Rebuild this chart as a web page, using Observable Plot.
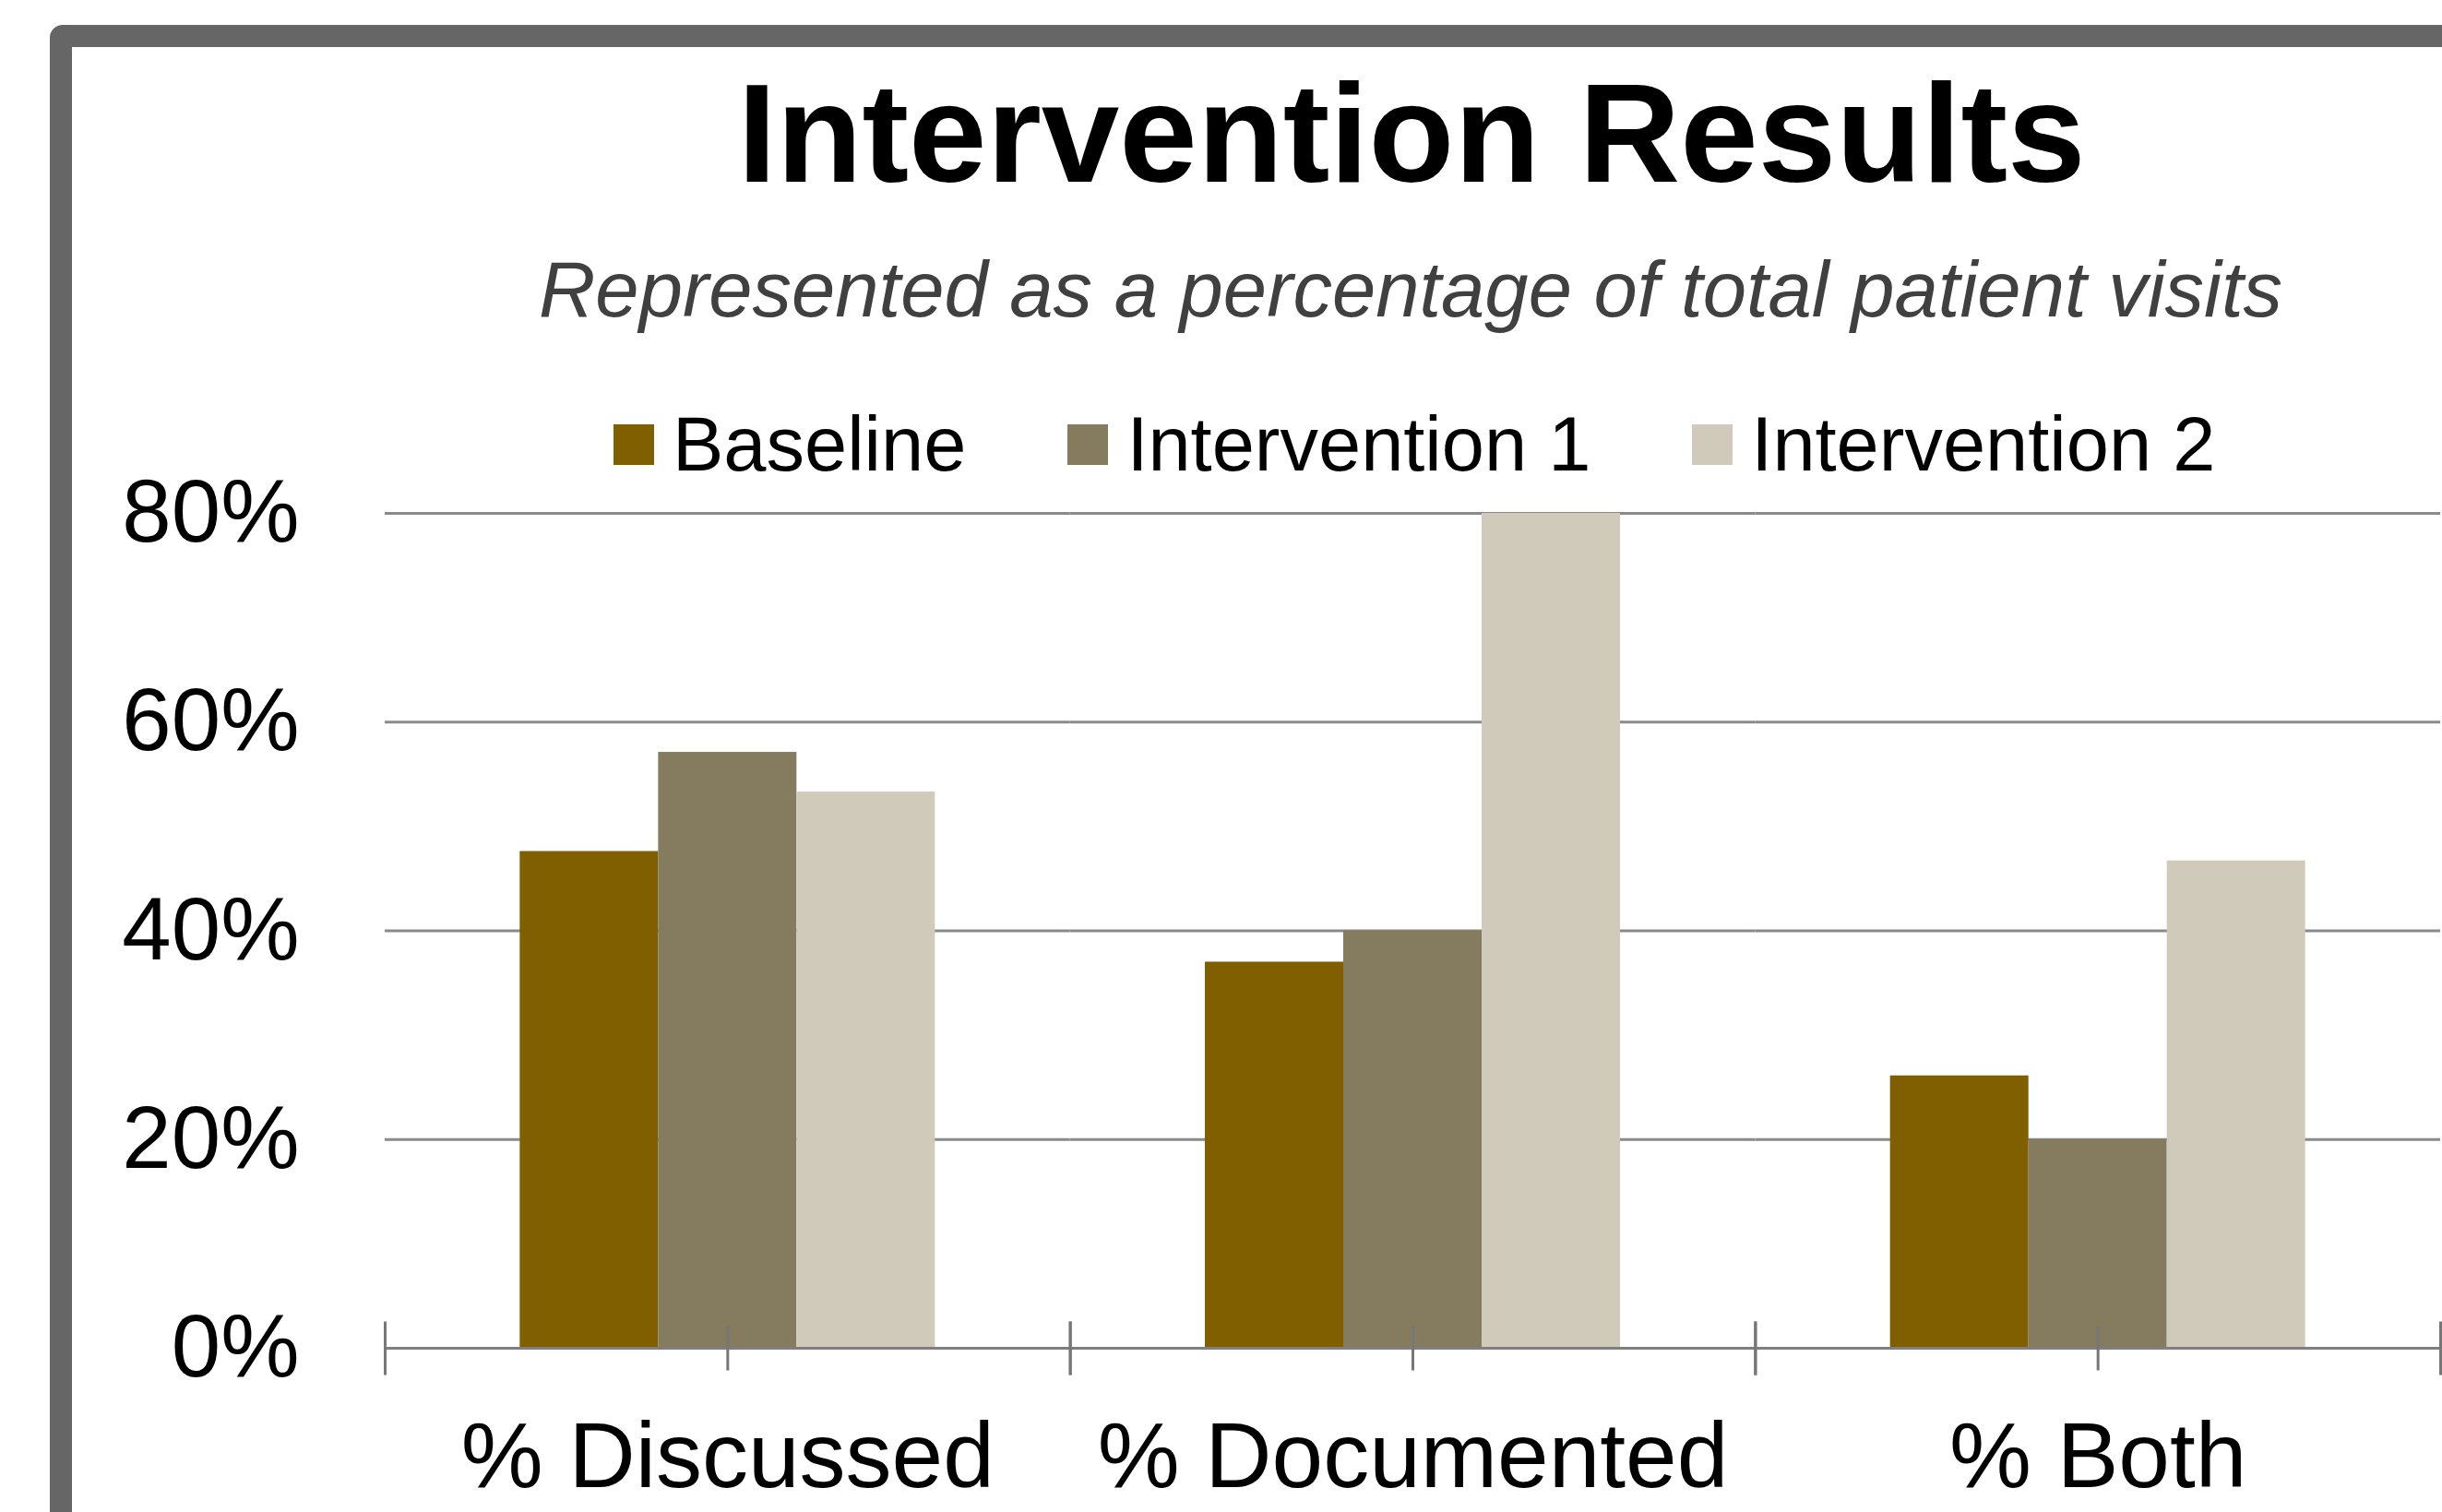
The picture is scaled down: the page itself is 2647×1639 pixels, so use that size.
<!DOCTYPE html>
<html>
<head>
<meta charset="utf-8">
<script src="https://cdn.jsdelivr.net/npm/d3@7"></script>
<script src="https://cdn.jsdelivr.net/npm/@observablehq/plot@0.6"></script>
<style>
  html, body { margin: 0; padding: 0; background: #fff; }
  body { width: 2647px; height: 1639px; position: relative; overflow: hidden; font-family: "Liberation Sans", Arial, sans-serif; }
  #frame { position: absolute; left: 54px; top: 27px; width: 3000px; height: 3000px; box-sizing: border-box;
           border: 24px solid #666666; border-radius: 14px; z-index: 5; pointer-events: none; }
  #title { position: absolute; left: 1530px; top: 68px; transform: translateX(-50%); font-size: 152px; font-weight: bold;
           line-height: 1; white-space: nowrap; color: #000; }
  #subtitle { position: absolute; left: 1529px; top: 271px; transform: translateX(-50%); font-size: 85px; font-style: italic;
              line-height: 1; white-space: nowrap; color: #404040; }
  #legend { position: absolute; left: 665px; top: 440px; display: flex; align-items: center; font-size: 83px;
            line-height: 1; white-space: nowrap; color: #000; }
  .item { display: flex; align-items: center; margin-right: 110px; }
  .sw { width: 44px; height: 44px; margin-right: 20px; }
  #chart { position: absolute; left: 0; top: 530px; }
</style>
</head>
<body>
<div id="frame"></div>
<div id="title">Intervention Results</div>
<div id="subtitle">Represented as a percentage of total patient visits</div>
<div id="legend"></div>
<div id="chart"></div>
<script>
const categories = ["% Discussed", "% Documented", "% Both"];
const series = ["Baseline", "Intervention 1", "Intervention 2"];
const baseline = [47.6, 37.0, 26.1];
const intervention1 = [57.1, 40.0, 20.0];
const intervention2 = [53.3, 80.0, 46.7];
const colors = ["#7F5F00", "#857B5E", "#D0CABB"];
const yTicks = [0, 20, 40, 60, 80];

const valuesBySeries = [baseline, intervention1, intervention2];
const data = series.flatMap((s, i) =>
  categories.map((c, j) => ({category: c, series: s, value: valuesBySeries[i][j]}))
);

// legend
const legend = document.getElementById("legend");
series.forEach((s, i) => {
  const item = document.createElement("div");
  item.className = "item";
  const sw = document.createElement("div");
  sw.className = "sw";
  sw.style.background = colors[i];
  const label = document.createElement("span");
  label.textContent = s;
  item.appendChild(sw);
  item.appendChild(label);
  legend.appendChild(item);
});

// vertical tick symbol
const vtick = {
  draw(ctx, size) {
    const r = Math.sqrt(size / Math.PI);
    ctx.moveTo(0, -r);
    ctx.lineTo(0, r);
  }
};

const tickStyle = {symbol: vtick, stroke: "#777777", strokeWidth: 3, fill: "none"};

const chart = Plot.plot({
  width: 2647,
  height: 1109,
  marginLeft: 417,
  marginRight: 2,
  marginTop: 26,
  marginBottom: 178,
  style: {fontFamily: "'Liberation Sans', Arial, sans-serif", fontSize: "100px", background: "transparent", color: "#000", overflow: "visible"},
  fx: {domain: categories, padding: 0, round: false},
  x: {domain: series, paddingInner: 0, paddingOuter: 0.9756, round: false, axis: null},
  y: {domain: [yTicks[0], yTicks[yTicks.length - 1]]},
  color: {domain: series, range: colors},
  marks: [
    Plot.ruleY(yTicks.slice(1), {stroke: "#8a8a8a", strokeWidth: 3}),
    Plot.barY(data, {fx: "category", x: "series", y: "value", fill: "series"}),
    Plot.ruleY([yTicks[0]], {stroke: "#7f7f7f", strokeWidth: 3}),
    Plot.dot([yTicks[0]], {y: d => d, r: 29, frameAnchor: "left", ...tickStyle}),
    Plot.dot([yTicks[0]], {y: d => d, r: 29, frameAnchor: "right", ...tickStyle}),
    Plot.dot([yTicks[0]], {y: d => d, r: 24, frameAnchor: "middle", ...tickStyle}),
    Plot.axisY({ticks: yTicks, tickFormat: d => d + "%", tickSize: 0, tickPadding: 93, fontSize: 96, label: null}),
    Plot.axisFx({anchor: "bottom", tickSize: 0, tickPadding: 79, fontSize: 100, label: null})
  ]
});
document.getElementById("chart").appendChild(chart);
</script>
</body>
</html>
